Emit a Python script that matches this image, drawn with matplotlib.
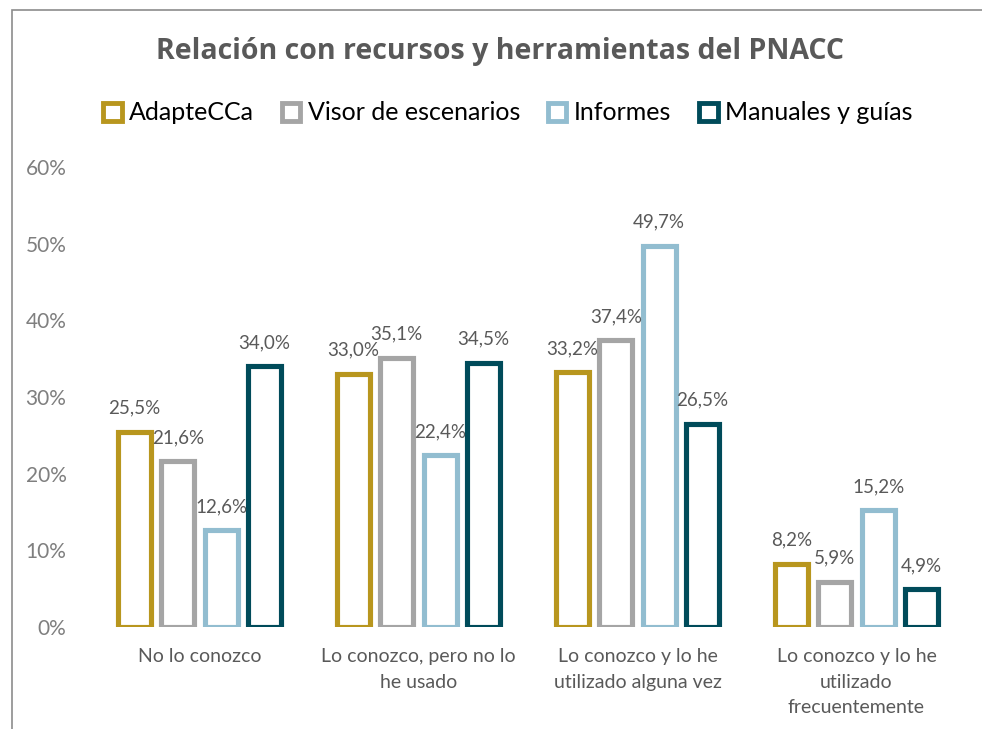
import matplotlib
matplotlib.use("Agg")
import matplotlib.pyplot as plt
import numpy as np
from matplotlib.patches import Patch, Rectangle

# --- datos ---
categories = [
    "No lo conozco",
    "Lo conozco, pero no lo\nhe usado",
    "Lo conozco y lo he\nutilizado alguna vez",
    "Lo conozco y lo he\nutilizado\nfrecuentemente",
]
series_names = ["AdapteCCa", "Visor de escenarios", "Informes", "Manuales y guías"]
adaptecca = [25.5, 33.0, 33.2, 8.2]
visor = [21.6, 35.1, 37.4, 5.9]
informes = [12.6, 22.4, 49.7, 15.2]
manuales = [34.0, 34.5, 26.5, 4.9]
yticks = [0, 10, 20, 30, 40, 50, 60]

colors = ["#B8961E", "#A5A5A5", "#92BDD0", "#004B5A"]
TEXT = "#595959"

plt.rcParams["font.family"] = ["Lato", "DejaVu Sans"]

fig = plt.figure(figsize=(9.82, 7.29), dpi=100)
ax = fig.add_axes([90 / 982, 102 / 729, 876 / 982, 460 / 729])

# marco del gráfico (recortado a la derecha y abajo)
fig.patches.append(Rectangle((12 / 982, -0.1), 1.2, (729 - 10) / 729 + 0.1,
                             transform=fig.transFigure, fill=False,
                             edgecolor="#8C8C8C", linewidth=1.2))

x = np.arange(len(categories))
pitch = 0.198
width = 0.152
all_series = [adaptecca, visor, informes, manuales]
for k, (vals, col) in enumerate(zip(all_series, colors)):
    pos = x + (k - 1.5) * pitch
    ax.bar(pos, np.array(vals) / 100, width, facecolor="white", edgecolor=col,
           linewidth=3.7)
    for p, v in zip(pos, vals):
        ax.text(p, v / 100 + 0.031, f"{v:.1f}%".replace(".", ","), ha="center",
                va="center", fontsize=13.5, color=TEXT)

ax.set_xlim(-0.5, len(categories) - 0.5)
ax.set_ylim(0, 0.6)
ax.set_yticks([t / 100 for t in yticks])
ax.set_yticklabels([f"{t}%" for t in yticks], fontsize=15, color="#7F7F7F")
ax.set_xticks(x)
ax.set_xticklabels(categories, fontsize=14, color=TEXT, linespacing=1.62)
ax.tick_params(axis="y", length=0, pad=17)
ax.tick_params(axis="x", length=0, pad=15)
for s in ax.spines.values():
    s.set_visible(False)

fig.text(0.509, 1 - 52 / 729, "Relación con recursos y herramientas del PNACC",
         ha="center", va="center", fontsize=20.5, fontweight="bold", color=TEXT,
         family=["Open Sans", "DejaVu Sans"])

handles = [Patch(facecolor="white", edgecolor=c, linewidth=3.5) for c in colors]
fig.legend(handles, series_names, loc="center", bbox_to_anchor=(0.517, 1 - 113 / 729),
           ncol=4, frameon=False, fontsize=18, handlelength=0.75, handleheight=0.75,
           handletextpad=0.3, columnspacing=1.1, labelcolor="black")

fig.savefig("out.png", dpi=100)
